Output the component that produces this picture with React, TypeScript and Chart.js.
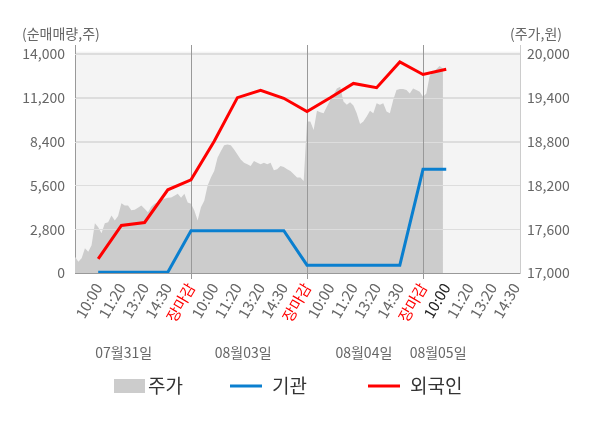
import { useEffect, useRef } from "react";
import { Chart, registerables } from "chart.js";

Chart.register(...registerables);

const FONT = "'Noto Sans CJK KR', 'Noto Sans', sans-serif";

// x axis: one slot per label, 5 slots per trading day
const xTickLabels = [
  "10:00", "11:20", "13:20", "14:30", "장마감",
  "10:00", "11:20", "13:20", "14:30", "장마감",
  "10:00", "11:20", "13:20", "14:30", "장마감",
  "10:00", "11:20", "13:20", "14:30",
];
const dayLabels = ["07월31일", "08월03일", "08월04일", "08월05일"];
const dayLabelSlots = [2.1, 7.25, 12.45, 15.65];

const leftTicks = [0, 2800, 5600, 8400, 11200, 14000];
const rightTicks = [17000, 17600, 18200, 18800, 19400, 20000];

// net buying (shares), one value per time slot
const netSlots = [1, 2, 3, 4, 5, 6, 7, 8, 9, 10, 11, 12, 13, 14, 15, 16];
const foreignNet = [900, 3040, 3230, 5320, 5955, 8425, 11210, 11675, 11170, 10325, 11200, 12120, 11845, 13490, 12690, 13030];
const institutionNet = [50, 50, 50, 50, 2700, 2700, 2700, 2700, 2700, 500, 500, 500, 500, 500, 6630, 6630];

// intraday price (won), 35 samples per full day
const priceDay1 = [
  17221, 17153, 17203, 17339, 17290, 17380, 17683, 17628, 17543, 17683,
  17696, 17787, 17719, 17780, 17954, 17923, 17923, 17860, 17868, 17895,
  17923, 17880, 17832, 17909, 17950, 17970, 17995, 18018, 18030, 18035,
  18058, 18085, 18030, 18085, 17967,
];
const priceDay2 = [
  17950, 17855, 17720, 17900, 17990, 18194, 18307, 18398, 18578, 18669,
  18750, 18760, 18750, 18692, 18624, 18556, 18510, 18488, 18466, 18533,
  18510, 18488, 18510, 18488, 18510, 18407, 18420, 18466, 18452, 18420,
  18398, 18353, 18307, 18307, 18260,
];
const priceDay3 = [
  19076, 19076, 18960, 19221, 19202, 19189, 19280, 19370, 19438, 19528,
  19551, 19348, 19303, 19338, 19293, 19189, 19040, 19076, 19144, 19221,
  19189, 19325, 19303, 19325, 19212, 19189, 19370, 19506, 19519, 19519,
  19506, 19460, 19528, 19506, 19483,
];
const priceDay4 = [19415, 19460, 19700, 19750, 19790, 19836, 19800];

const priceDays = [priceDay1, priceDay2, priceDay3, priceDay4];

function tickColor(i: number) {
  if (xTickLabels[i] === "장마감") return "#ff0000";
  if (i === 15) return "#222222";
  return "#666666";
}

const overlayPlugin = {
  id: "overlay",
  beforeDraw(chart: any) {
    const { ctx, chartArea } = chart;
    const top = chart.scales.y.getPixelForValue(14150);
    ctx.save();
    ctx.fillStyle = "#f4f4f4";
    ctx.fillRect(chartArea.left, top, chartArea.right - chartArea.left, chartArea.bottom - top);
    ctx.restore();
  },
  // keep the grid visible on top of the price area
  afterDatasetDraw(chart: any, args: any) {
    if (args.index !== 0) return;
    const { ctx, chartArea, scales } = chart;
    ctx.save();
    ctx.lineWidth = 1;
    ctx.strokeStyle = "#dddddd";
    leftTicks.slice(1).forEach((v) => {
      const y = Math.round(scales.y.getPixelForValue(v)) + 0.5;
      ctx.beginPath();
      ctx.moveTo(chartArea.left, y);
      ctx.lineTo(chartArea.right, y);
      ctx.stroke();
    });
    ctx.strokeStyle = "#999999";
    [5, 10, 15].forEach((v) => {
      const x = Math.round(scales.x.getPixelForValue(v)) + 0.5;
      ctx.beginPath();
      ctx.moveTo(x, chartArea.top);
      ctx.lineTo(x, chartArea.bottom);
      ctx.stroke();
    });
    ctx.restore();
  },
  afterDraw(chart: any) {
    const { ctx, scales } = chart;
    ctx.save();
    ctx.textBaseline = "middle";
    ctx.font = `14px ${FONT}`;
    ctx.fillStyle = "#666666";
    ctx.textAlign = "left";
    ctx.fillText("(순매매량,주)", 22, 34);
    ctx.fillText("(주가,원)", 510, 34);

    ctx.textAlign = "center";
    dayLabels.forEach((d, i) => {
      ctx.fillText(d, scales.x.getPixelForValue(dayLabelSlots[i]), 353);
    });

    // legend
    const ly = 386;
    const starts = [114, 230, 368];
    ctx.font = `19px ${FONT}`;
    ctx.textAlign = "left";
    chart.data.datasets.forEach((ds: any, i: number) => {
      const x0 = starts[i];
      if (ds.fill) {
        ctx.fillStyle = ds.backgroundColor;
        ctx.fillRect(x0, ly - 7, 31, 14);
      } else {
        ctx.strokeStyle = ds.borderColor;
        ctx.lineWidth = 3;
        ctx.beginPath();
        ctx.moveTo(x0, ly);
        ctx.lineTo(x0 + 32, ly);
        ctx.stroke();
      }
      ctx.fillStyle = "#333333";
      ctx.fillText(ds.label, x0 + (ds.fill ? 34 : 42), ly);
    });
    ctx.restore();
  },
};

export default function App() {
  const canvasRef = useRef<HTMLCanvasElement | null>(null);

  useEffect(() => {
    if (!canvasRef.current) return;

    const pricePoints = priceDays.flatMap((day, d) =>
      day.map((p, i) => ({ x: d * 5 + (i * 5) / 35, y: p }))
    );

    const chart = new Chart(canvasRef.current, {
      type: "line",
      data: {
        datasets: [
          {
            label: "주가",
            data: pricePoints,
            yAxisID: "y1",
            fill: "start",
            backgroundColor: "#cccccc",
            borderColor: "#cccccc",
            borderWidth: 0,
            pointRadius: 0,
            order: 3,
          },
          {
            label: "기관",
            data: netSlots.map((x, i) => ({ x, y: institutionNet[i] })),
            yAxisID: "y",
            fill: false,
            borderColor: "#0a7fcf",
            borderWidth: 3,
            pointRadius: 0,
            order: 2,
          },
          {
            label: "외국인",
            data: netSlots.map((x, i) => ({ x, y: foreignNet[i] })),
            yAxisID: "y",
            fill: false,
            borderColor: "#ff0000",
            borderWidth: 3,
            pointRadius: 0,
            order: 1,
          },
        ],
      },
      options: {
        animation: false,
        responsive: true,
        maintainAspectRatio: false,
        layout: { padding: { top: 45, bottom: 85, left: 0, right: 0 } },
        plugins: {
          legend: { display: false },
          tooltip: { enabled: false },
        },
        scales: {
          x: {
            type: "linear",
            min: 0,
            max: 19.18,
            afterBuildTicks: (s: any) => {
              s.ticks = xTickLabels.map((_, i) => ({ value: i + 1 }));
            },
            afterFit: (s: any) => {
              s.height = 70;
            },
            ticks: {
              autoSkip: false,
              minRotation: 60,
              maxRotation: 60,
              padding: 1,
              font: { family: FONT, size: 15 },
              color: (c: any) => tickColor(c.index),
              callback: (_v: any, i: number) => xTickLabels[i],
            },
            grid: {
              color: (c: any) =>
                c.tick && c.tick.value % 5 === 0 ? "#999999" : "transparent",
              tickLength: 6,
            },
            border: { color: "#999999" },
          },
          y: {
            position: "left",
            min: 0,
            max: 14575,
            afterBuildTicks: (s: any) => {
              s.ticks = leftTicks.map((v) => ({ value: v }));
            },
            afterFit: (s: any) => {
              s.width = 75;
            },
            ticks: {
              padding: 10,
              color: "#666666",
              font: { family: FONT, size: 14 },
              callback: (v: any) => Number(v).toLocaleString("en-US"),
            },
            grid: { color: "#dddddd", drawTicks: false },
            border: { color: "#999999" },
          },
          y1: {
            position: "right",
            min: 17000,
            max: 20123,
            afterBuildTicks: (s: any) => {
              s.ticks = rightTicks.map((v) => ({ value: v }));
            },
            afterFit: (s: any) => {
              s.width = 80;
            },
            ticks: {
              padding: 7,
              color: "#666666",
              font: { family: FONT, size: 14 },
              callback: (v: any) => Number(v).toLocaleString("en-US"),
            },
            grid: { drawOnChartArea: false, drawTicks: false },
            border: { color: "#cccccc" },
          },
        },
      },
      plugins: [overlayPlugin],
    });

    return () => {
      chart.destroy();
    };
  }, []);

  return (
    <div
      style={{
        position: "fixed",
        left: 0,
        top: 0,
        width: 600,
        height: 428,
        background: "#ffffff",
      }}
    >
      <canvas ref={canvasRef} />
    </div>
  );
}
